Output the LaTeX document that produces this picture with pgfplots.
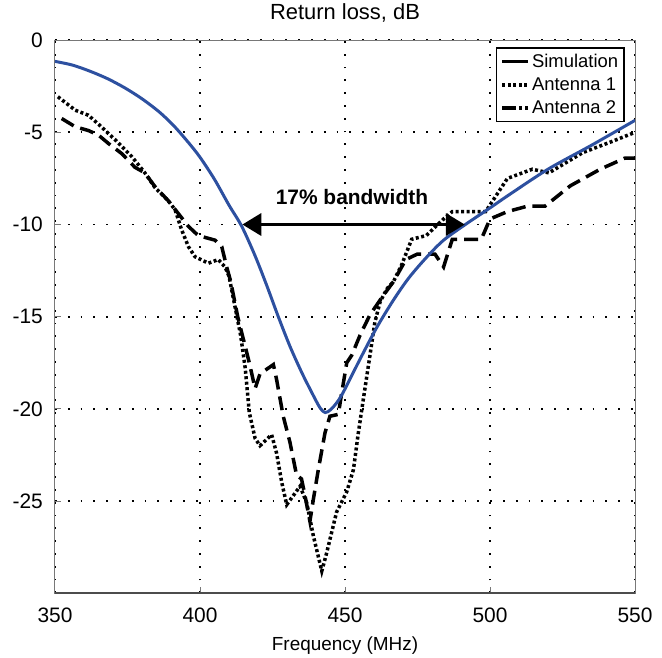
\documentclass[border=0pt]{standalone}
\usepackage{fontspec}
\setmainfont{Liberation Sans}
\usepackage{pgfplots}
\pgfplotsset{compat=1.18}
\usetikzlibrary{arrows.meta}
\definecolor{simblue}{RGB}{45,80,160}
\definecolor{framegray}{RGB}{120,120,120}

\begin{document}
\begin{tikzpicture}
\begin{axis}[
    scale only axis,
    width=580bp, height=553bp,
    xmin=350, xmax=550, ymin=-30, ymax=0,
    xtick={350,400,450,500,550},
    ytick={-25,-20,-15,-10,-5,0},
    /pgf/number format/assume math mode=true,
    tick label style={font=\fontsize{21}{24}\selectfont},
    xticklabel style={anchor=base, yshift=-29bp},
    yticklabel style={anchor=east, inner sep=0pt, xshift=-12bp},
    tick align=inside,
    xtick pos=bottom, ytick pos=left,
    major tick length=6bp,
    tick style={framegray, line width=1bp},
    axis line style={framegray, line width=1bp},
    grid=major,
    major grid style={black, line width=1.8bp, dash pattern=on 1.8bp off 11bp},
    title={Return loss, dB},
    title style={at={(0.5,1)}, anchor=base, yshift=15bp, font=\fontsize{22}{26}\selectfont},
    xlabel={Frequency (MHz)},
    xlabel style={at={(0.5,0)}, anchor=base, yshift=-57bp, font=\fontsize{19}{22}\selectfont},
    legend style={at={(1,1)}, anchor=north east, xshift=-10bp, yshift=-7bp,
        draw=black, line width=1.8bp, fill=white,
        font=\fontsize{18.5}{20}\selectfont, row sep=5bp, inner sep=4bp},
    legend cell align=left,
    legend image code/.code={\draw[#1] (0bp,0bp) -- (26bp,0bp);},
]
\addlegendimage{black, solid, line width=3.5bp}
\addlegendentry{Simulation}
\addlegendimage{black, line width=3.5bp, dash pattern=on 3bp off 2.5bp}
\addlegendentry{Antenna 1}
\addlegendimage{black, line width=3.5bp, dash pattern=on 14bp off 3bp on 3bp off 3bp}
\addlegendentry{Antenna 2}

% Antenna 1 (dotted)
\addplot[forget plot, black, line width=3.5bp, dash pattern=on 3bp off 2.5bp] coordinates {
(351,-3.07) (357,-3.8) (361.5,-4.07) (366,-4.7) (370.7,-5.4) (376.4,-6.3)
(381,-7.2) (384.5,-8.0) (389,-8.7) (391.4,-9.2) (393.7,-10.3) (396,-11.2)
(398.3,-11.75) (402.9,-12.1) (406.3,-11.9) (408.6,-12.3) (410,-12.8)
(412,-14.4) (414,-16.0) (415.6,-17.8) (417,-20.2) (419,-21.6) (420.7,-22.0)
(424.7,-21.4) (426.4,-22.4) (428.2,-24.0) (429.9,-25.2) (432.2,-24.7)
(434.5,-24.2) (436.8,-25.1) (439.1,-26.9) (442,-28.8) (443.7,-27.8)
(447.1,-25.6) (450.6,-24.5) (452.9,-23.3) (454.6,-21.3) (456.3,-19.5)
(458.6,-17.1) (460.3,-15.3) (462.1,-14.2) (464.4,-13.5) (466.7,-13.1)
(469.5,-12.2) (473,-10.8) (478,-10.6) (484,-9.7) (487,-9.3) (498.5,-9.3)
(506,-7.5) (514.6,-7.0) (520.3,-7.2) (532,-6.1) (542,-5.5) (550,-5.0)
};

% Antenna 2 (dashed)
\addplot[forget plot, black, line width=3.5bp, dash pattern=on 14bp off 7bp] coordinates {
(352.3,-4.25) (357,-4.7) (361.5,-4.9) (365,-5.15) (368.4,-5.6) (373,-6.15)
(377.6,-6.9) (381,-7.2) (384.5,-7.95) (389,-8.7) (392.5,-9.4) (396,-10.1)
(399.4,-10.6) (405.2,-10.85) (407.5,-11.2) (409.2,-12.3) (410.6,-13.1)
(413,-15.0) (417,-17.5) (419,-18.9) (420.7,-18.1) (425.3,-17.6) (426.4,-18.4)
(428.7,-20.4) (431,-21.8) (433.3,-23.6) (435,-23.8) (436.2,-24.7)
(437.9,-26.1) (439.1,-24.9) (440.8,-23.3) (443.1,-21.3) (444.8,-20.4)
(447.7,-20.3) (448.9,-19.1) (450.6,-17.5) (452.3,-17.1) (455.2,-16.0)
(458.6,-14.9) (463.2,-13.85) (466.7,-13.1) (471,-11.9) (475,-11.6)
(481,-11.6) (484,-12.3) (487,-10.8) (497,-10.8) (500,-9.7) (506,-9.3)
(513,-9.0) (519,-9.0) (527.7,-7.9) (538,-7.0) (546.5,-6.4) (550,-6.4)
};

% Simulation (blue)
\addplot[forget plot, simblue, line width=3bp, smooth] coordinates {
(350,-1.15) (356,-1.35) (362,-1.68) (368,-2.08) (374,-2.58) (380,-3.18)
(386,-3.9) (391,-4.65) (396,-5.55) (400,-6.35) (405,-7.55) (410,-8.95)
(414.4,-10.1) (419,-11.7) (423,-13.3) (427,-15.0) (431,-16.6) (435,-18.0)
(438.5,-19.1) (441.4,-19.95) (443.2,-20.2) (445,-20.05) (447,-19.7)
(449.4,-19.1) (455.2,-17.3) (460.9,-15.6) (466.7,-14.1) (472,-12.9)
(478,-11.8) (484,-10.85) (491.5,-10.0) (500,-9.1) (506,-8.45) (520,-7.0)
(535,-5.7) (550,-4.35)
};

\draw[line width=3.5bp, {Triangle[length=19bp,width=22bp]}-{Triangle[length=19bp,width=22bp]}]
    (axis cs:414.6,-10) -- (axis cs:491.3,-10);
\node[anchor=base, font=\bfseries\fontsize{21}{24}\selectfont] at (axis cs:452.4,-8.9) {17\% bandwidth};
\draw[line width=2.5bp, black!70] (rel axis cs:0,0) -- (rel axis cs:1,0);
\end{axis}
\path (-55bp,-64bp) rectangle (607bp,591bp);
\end{tikzpicture}
\end{document}
